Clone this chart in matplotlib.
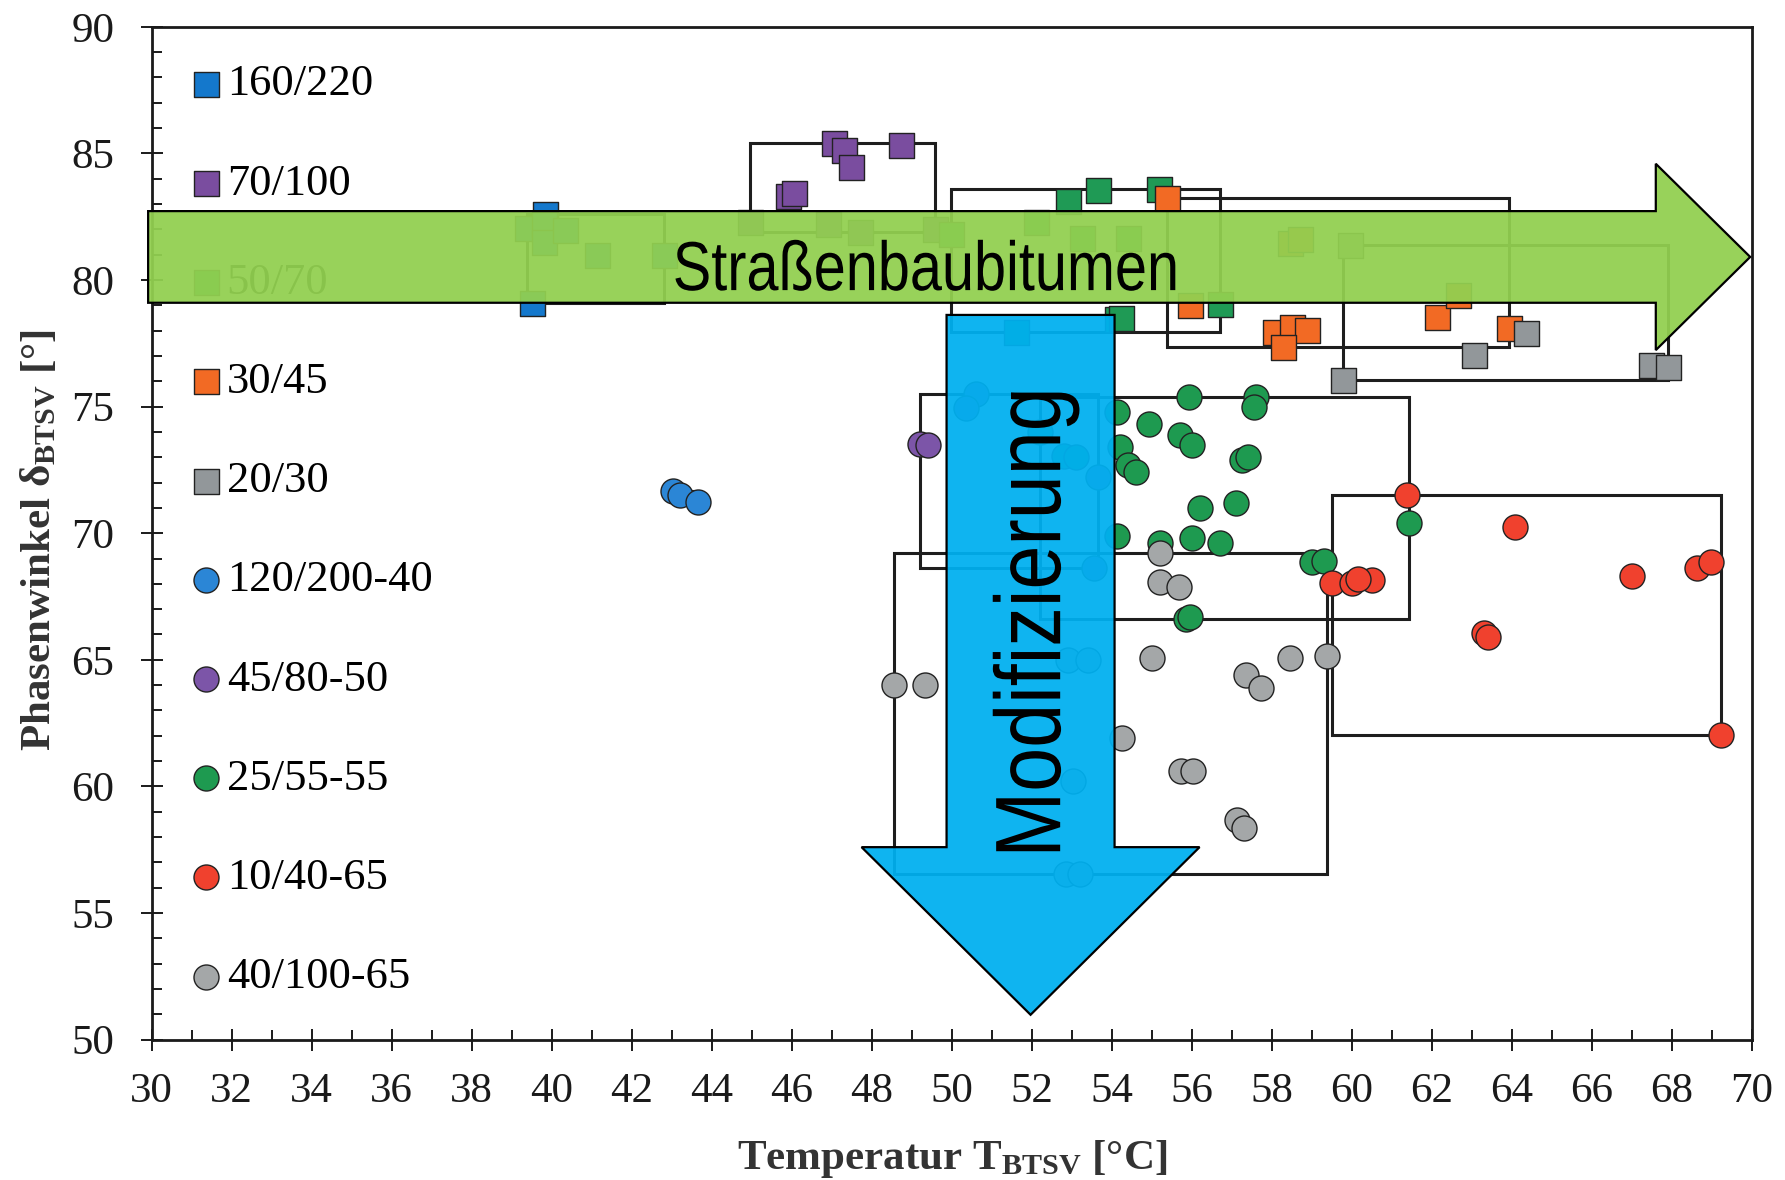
import numpy as np
import matplotlib.pyplot as plt
import matplotlib.patches as mpatches
import matplotlib.transforms as mtransforms
from matplotlib.textpath import TextPath
from matplotlib.font_manager import FontProperties
from matplotlib.ticker import MultipleLocator

plt.rcParams['font.family'] = ['Liberation Serif', 'DejaVu Serif']
plt.rcParams['mathtext.fontset'] = 'custom'
plt.rcParams['mathtext.rm'] = 'Liberation Serif'
plt.rcParams['mathtext.bf'] = 'Liberation Serif:bold'
plt.rcParams['mathtext.it'] = 'Liberation Serif:italic'

# Straßenbaubitumen (squares): temperature T_BTSV [°C] and phase angle delta [°]
t_160_220 = [39.84, 39.5, 39.37, 39.8, 39.8, 40.33, 41.12, 42.8]
d_160_220 = [82.6, 79.08, 82.04, 82.2, 81.5, 81.97, 80.99, 80.99]

t_70_100 = [47.05, 47.3, 47.47, 48.74, 45.9, 46.05, 44.95, 46.9, 47.7, 49.57]
d_70_100 = [85.4, 85.15, 84.45, 85.33, 83.3, 83.45, 82.3, 82.2, 81.9, 82.0]

t_50_70 = [52.9, 53.66, 55.18, 54.12, 54.22, 56.7, 52.1, 53.25, 54.4, 49.97, 51.6]
d_50_70 = [83.1, 83.55, 83.6, 78.45, 78.5, 79.05, 82.3, 81.65, 81.65, 81.8, 77.96]

t_30_45 = [55.37, 55.95, 58.08, 58.5, 58.88, 58.29, 62.12, 62.66, 63.92, 58.45, 58.7]
d_30_45 = [83.22, 79.0, 77.96, 78.16, 78.03, 77.37, 78.55, 79.4, 78.1, 81.45, 81.6]

t_20_30 = [59.77, 63.05, 64.36, 67.47, 67.9, 59.96]
d_20_30 = [76.05, 77.04, 77.9, 76.64, 76.58, 81.38]

# polymer modified bitumen (circles)
t_120_200_40 = [43.03, 43.2, 43.65]
d_120_200_40 = [71.68, 71.5, 71.24]

t_45_80_50 = [49.2, 49.4, 50.6, 50.35, 53.65, 53.55]
d_45_80_50 = [73.52, 73.5, 75.5, 74.95, 72.2, 68.63]

t_25_55_55 = [54.12, 54.94, 55.93, 57.6, 57.55, 54.2, 55.7, 56.0, 54.4, 54.6,
              57.25, 57.4, 56.2, 57.1, 54.12, 55.2, 56.0, 56.7, 55.85, 55.95,
              59.0, 59.3, 61.42, 52.2, 52.8, 53.1]
d_25_55_55 = [74.77, 74.3, 75.38, 75.38, 75.0, 73.4, 73.87, 73.5, 72.7, 72.4,
              72.9, 73.0, 71.0, 71.2, 69.9, 69.6, 69.8, 69.6, 66.6, 66.7,
              68.85, 68.9, 70.4, 74.0, 73.05, 73.0]

t_10_40_65 = [61.37, 64.08, 63.3, 63.4, 67.0, 68.62, 68.99, 69.24, 59.5, 60.0, 60.5, 60.15]
d_10_40_65 = [71.51, 70.26, 66.05, 65.9, 68.29, 68.62, 68.88, 62.04, 68.03, 68.03, 68.16, 68.2]

t_40_100_65 = [48.56, 49.32, 55.2, 55.2, 55.69, 55.01, 54.25, 57.36, 57.74, 58.46,
               59.37, 55.73, 56.02, 57.12, 57.31, 52.9, 53.4, 53.03, 52.85, 53.2]
d_40_100_65 = [64.01, 64.01, 69.21, 68.09, 67.89, 65.06, 61.91, 64.41, 63.88, 65.06,
               65.13, 60.59, 60.59, 58.68, 58.35, 65.0, 65.0, 60.2, 56.55, 56.55]

series = [
    ('160/220', t_160_220, d_160_220, 's', '#1478CC'),
    ('70/100', t_70_100, d_70_100, 's', '#7A4D9F'),
    ('50/70', t_50_70, d_50_70, 's', '#1F9A55'),
    ('30/45', t_30_45, d_30_45, 's', '#F26A24'),
    ('20/30', t_20_30, d_20_30, 's', '#92979A'),
    ('120/200-40', t_120_200_40, d_120_200_40, 'o', '#2B86D6'),
    ('45/80-50', t_45_80_50, d_45_80_50, 'o', '#7C55A8'),
    ('25/55-55', t_25_55_55, d_25_55_55, 'o', '#1E9A50'),
    ('10/40-65', t_10_40_65, d_10_40_65, 'o', '#F0412E'),
    ('40/100-65', t_40_100_65, d_40_100_65, 'o', '#A4A7A8'),
]


def condensed_text(ax, x, y, s, size, squeeze, rotation=0):
    """Draw text as a path, horizontally squeezed, centred on x with baseline at y."""
    fp = FontProperties(family='Liberation Sans', size=size)
    path = TextPath((0, 0), s, prop=fp)
    ext = path.get_extents()
    k = ax.figure.dpi / 72.0
    tr = (mtransforms.Affine2D().translate(-(ext.x0 + ext.x1) / 2, 0)
          .scale(squeeze * k, k).rotate_deg(rotation)
          + mtransforms.ScaledTranslation(x, y, ax.transData))
    ax.add_patch(mpatches.PathPatch(path, transform=tr, fc='black', lw=0,
                                    zorder=7, clip_on=False))


fig = plt.figure(figsize=(17.85, 11.8), dpi=100)
ax = fig.add_axes([0.085, 0.119, 0.8964, 0.8583])

# range box around every binder grade, then the measured points on top
for label, t, d, m, c in series:
    t = np.asarray(t)
    d = np.asarray(d)
    ax.add_patch(mpatches.Rectangle((t.min(), d.min()), t.max() - t.min(), d.max() - d.min(),
                                    fill=False, ec='#1e1e1e', lw=2.2, zorder=2))
for label, t, d, m, c in series:
    ax.scatter(t, d, s=324, marker=m, c=c, edgecolors='#222222', linewidths=1.0,
               zorder=3, label=label)

ax.set_xlim(30, 70)
ax.set_ylim(50, 90)
ax.xaxis.set_major_locator(MultipleLocator(2))
ax.xaxis.set_minor_locator(MultipleLocator(1))
ax.yaxis.set_major_locator(MultipleLocator(5))
ax.yaxis.set_minor_locator(MultipleLocator(1))
ax.tick_params(which='major', direction='inout', length=16, width=1.4, labelsize=31, colors='#1a1a1a')
ax.tick_params(which='minor', direction='in', length=7.5, width=1.4, colors='#1a1a1a')
ax.tick_params(axis='x', which='major', pad=16)
ax.tick_params(axis='y', which='major', pad=19)
for sp in ax.spines.values():
    sp.set_linewidth(2.0)
    sp.set_color('#1a1a1a')

ax.set_xlabel('Temperatur T$_\\mathbf{BTSV}$ [°C]', fontsize=31, fontweight='bold', color='#333333')
ax.set_ylabel('Phasenwinkel δ$_\\mathbf{BTSV}$ [°]', fontsize=31, fontweight='bold', color='#333333')
ax.xaxis.set_label_coords(0.5, -0.097)
ax.yaxis.set_label_coords(-0.058, 0.4927)

ax.legend(loc='upper left', bbox_to_anchor=(0.026, 0.963), frameon=False, fontsize=32,
          labelspacing=1.33, handlelength=0.55, handletextpad=0.2, borderpad=0.0,
          borderaxespad=0.0, scatterpoints=1)

# overlay arrows
green_arrow = mpatches.FancyArrow(29.91, 80.91, 69.96 - 29.91, 0, width=3.62, head_width=7.36,
                                  head_length=2.36, length_includes_head=True,
                                  facecolor=(0.573, 0.816, 0.314, 0.94), edgecolor='black',
                                  lw=1.6, zorder=6, clip_on=False)
ax.add_patch(green_arrow)
condensed_text(ax, 49.34, 79.6, 'Straßenbaubitumen', 50, 0.83)

blue_arrow = mpatches.FancyArrow(51.97, 78.62, 0, 50.98 - 78.62, width=4.2, head_width=8.45,
                                 head_length=6.62, length_includes_head=True,
                                 facecolor=(0.0, 0.69, 0.94, 0.94), edgecolor='black',
                                 lw=1.6, zorder=6, clip_on=False)
ax.add_patch(blue_arrow)
condensed_text(ax, 52.71, 66.5, 'Modifizierung', 67, 0.85, rotation=90)

fig.savefig('out.png', dpi=100)
